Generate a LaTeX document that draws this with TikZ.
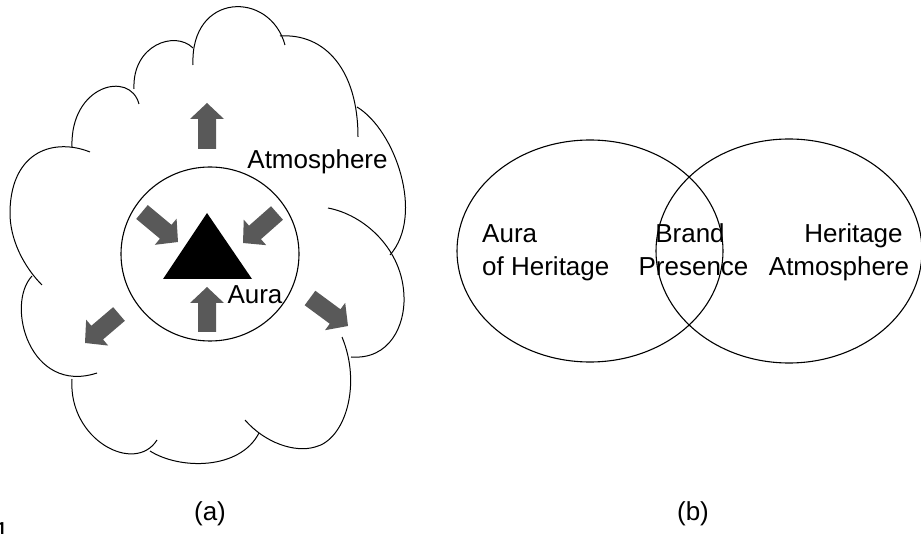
\documentclass[tikz,border=0pt]{standalone}
\usepackage{fontspec}
\setmainfont{Liberation Sans}
\usetikzlibrary{calc,shapes.geometric}
\definecolor{arrowgray}{RGB}{89,89,89}
\newcommand{\blockarrow}[3]{%
  \coordinate (#3) at ($(#2)!16pt!(#1)$);
  \fill[arrowgray] ($(#1)!9pt!90:(#2)$) -- ($(#3)!9pt!90:(#2)$) -- ($(#3)!17pt!90:(#2)$) -- (#2)
    -- ($(#3)!17pt!-90:(#2)$) -- ($(#3)!9pt!-90:(#2)$) -- ($(#1)!9pt!-90:(#2)$) -- cycle;}
\begin{document}
\begin{tikzpicture}[x=1pt,y=-1pt,
  cloudline/.style={draw=black,line width=1pt},
  outline/.style={draw=black,line width=1.1pt,ellipse,inner sep=0pt,outer sep=0pt},
  lbl/.style={inner sep=0pt,anchor=base,font=\fontsize{26}{31}\selectfont}]
\useasboundingbox (0,0) rectangle (921,534);
% ---------- (a) cloud ----------
\draw[cloudline] (72,147) .. controls (70,85) and (130,70) .. (139,104);
\draw[cloudline] (134,89) .. controls (132,45) and (175,30) .. (193,48);
\draw[cloudline] (193,65) .. controls (190,-8) and (270,-10) .. (285,45);
\draw[cloudline] (280,36) .. controls (325,33) and (358,70) .. (358,137);
\draw[cloudline] (357,107) .. controls (395,130) and (425,215) .. (390,255);
\draw[cloudline] (351,357) .. controls (390,360) and (405,325) .. (404,297)
                 .. controls (403,250) and (365,215) .. (328,208);
\draw[cloudline] (245,420) .. controls (265,443) and (295,453) .. (315,447)
                 .. controls (345,440) and (362,385) .. (342,337);
\draw[cloudline] (150,451) .. controls (180,470) and (240,470) .. (259,433);
\draw[cloudline] (72,379) .. controls (68,440) and (135,475) .. (157,440);
\draw[cloudline] (32,276) .. controls (5,305) and (30,395) .. (97,373);
\draw[cloudline] (90,152) .. controls (55,138) and (12,150) .. (10,210)
                 .. controls (9,240) and (25,268) .. (42,285);
% inner circle (aura)
\node[outline,minimum width=178pt,minimum height=174pt] (aura) at (210,254) {};
% triangle
\fill[black] (207,213) -- (163,279) -- (252,279) -- cycle;
% arrows
\coordinate (upT) at (207,149); \coordinate (upH) at (207,103);
\coordinate (bupT) at (207,332); \coordinate (bupH) at (207,287);
\coordinate (ulT) at (142,212); \coordinate (ulH) at (178,242);
\coordinate (urT) at (277,213); \coordinate (urH) at (243,243);
\coordinate (llT) at (119,314); \coordinate (llH) at (85,343);
\coordinate (lrT) at (310,298); \coordinate (lrH) at (348,326);
\blockarrow{upT}{upH}{upB}
\blockarrow{bupT}{bupH}{bupB}
\blockarrow{ulT}{ulH}{ulB}
\blockarrow{urT}{urH}{urB}
\blockarrow{llT}{llH}{llB}
\blockarrow{lrT}{lrH}{lrB}
% labels (a)
\node[lbl] (atm) at (317.5,169) {Atmosphere};
\node[lbl] (auralbl) at (255,304) {Aura};
\node[lbl] (capa) at (210,520) {(a)};
% ---------- (b) Venn ----------
\node[outline,minimum width=266pt,minimum height=222pt] (left) at (590,251) {};
\node[outline,minimum width=266pt,minimum height=224pt] (right) at (789,251) {};
\node[lbl,anchor=base west] (l1) at (482,243) {Aura};
\node[lbl,anchor=base west] (l2) at (482,276) {of Heritage};
\node[lbl] (m1) at (690,243) {Brand};
\node[lbl] (m2) at (693.5,276) {Presence};
\node[lbl] (r1) at (853.5,243) {Heritage};
\node[lbl] (r2) at (839,276) {Atmosphere};
\node[lbl] (capb) at (693,520) {(b)};
% partial figure number at the lower left edge
\node[lbl,anchor=base west] (fignum) at (-5.5,540) {1};
\end{tikzpicture}
\end{document}
